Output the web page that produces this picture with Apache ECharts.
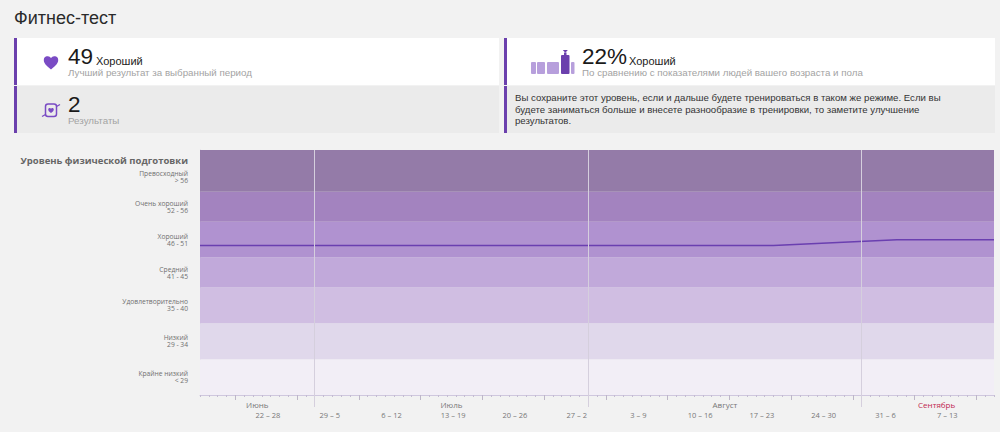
<!DOCTYPE html>
<html lang="ru">
<head>
<meta charset="utf-8">
<title>Фитнес-тест</title>
<script src="https://cdn.jsdelivr.net/npm/echarts@6/dist/echarts.min.js"></script>
<style>
  html, body { margin: 0; padding: 0; background: #f2f2f2; }
  body { width: 1000px; height: 432px; position: relative; overflow: hidden; font-family: "Liberation Sans", sans-serif; color: #222; }
  h1 { position: absolute; left: 14px; top: 6px; margin: 0; font-size: 18px; font-weight: normal; line-height: 24px; color: #2a2a2a; }
  #chart { position: absolute; left: 0; top: 0; width: 1000px; height: 432px; }
  .card { position: absolute; box-sizing: border-box; height: 47px; border-left: 3.5px solid #6b40ad; }
  .c-left { left: 14px; width: 485px; }
  .c-right { left: 504px; width: 491px; }
  .r1 { top: 38px; background: #fff; }
  .r2 { top: 86px; background: #ebebeb; }
  .t { position: absolute; white-space: nowrap; }
  .big { font-size: 22.5px; line-height: 18px; color: #1a1a1a; }
  .lvl { font-size: 11px; line-height: 13px; color: #222; }
  .sub { font-size: 9.75px; line-height: 10px; color: #a3a3a3; }
  .note { position: absolute; left: 515px; top: 92px; font-size: 9.65px; line-height: 11.5px; color: #333; white-space: nowrap; }
  svg { position: absolute; }
</style>
</head>
<body>
<h1>Фитнес-тест</h1>
<div id="chart"></div>

<div class="card c-left r1"></div>
<div class="card c-left r2"></div>
<div class="card c-right r1"></div>
<div class="card c-right r2"></div>

<svg style="left:43px;top:55px" width="16" height="15" viewBox="0 0 16 15"><path d="M8 14.5C3 10.5.8 8.2.8 5A3.9 3.9 0 0 1 8 3a3.9 3.9 0 0 1 7.2 2c0 3.2-2.2 5.500-7.200 9.500z" fill="#7a4bc4"/></svg>
<div class="t big" style="left:68px;top:48px">49</div>
<div class="t lvl" style="left:96px;top:55px">Хороший</div>
<div class="t sub" style="left:68px;top:68px">Лучший результат за выбранный период</div>

<svg style="left:41px;top:102px" width="20" height="17" viewBox="0 0 20 17"><rect x="4.500" y="2" width="11" height="12.500" rx="2.500" fill="none" stroke="#7a4bc4" stroke-width="1.500"/><path d="M10 11C8 9.500 7.200 8.600 7.200 7.400A1.500 1.500 0 0 1 10 6.700a1.500 1.500 0 0 1 2.800.7c0 1.200-.8 2.100-2.800 3.600z" fill="#7a4bc4"/><path d="M15.500 4.500L19 2.500M4.500 12.500L1 14.500" stroke="#7a4bc4" stroke-width="1.300" fill="none"/></svg>
<div class="t big" style="left:68px;top:96px">2</div>
<div class="t sub" style="left:68px;top:115.500px">Результаты</div>

<svg style="left:531px;top:50px" width="44" height="25" viewBox="0 0 44 25">
  <g fill="#b79fdc"><rect x="0" y="12" width="5" height="12" rx="1"/><rect x="6" y="12" width="8" height="12" rx="1"/><rect x="16" y="12" width="12" height="12" rx="1"/><rect x="40" y="12" width="3.500" height="12" rx="1"/></g>
  <rect x="30" y="5" width="8.500" height="19" rx="1" fill="#6b40ad"/><rect x="33" y="2.500" width="2.500" height="3" fill="#6b40ad"/><path d="M31.800 0h5l-2.500 2.800z" fill="#6b40ad"/>
</svg>
<div class="t big" style="left:582px;top:48px">22%</div>
<div class="t lvl" style="left:629px;top:55px">Хороший</div>
<div class="t sub" style="left:582px;top:68px">По сравнению с показателями людей вашего возраста и пола</div>

<div class="note">Вы сохраните этот уровень, если и дальше будете тренироваться в таком же режиме. Если вы<br>будете заниматься больше и внесете разнообразие в тренировки, то заметите улучшение<br>результатов.</div>

<script>
// Фитнес-тест: уровень физической подготовки
var lineDates = ['2015-06-18', '2015-08-22', '2015-09-05', '2015-09-16'];
var lineScores = [47.5, 47.5, 48.5, 48.5];

// границы зон снизу вверх, подписи и цвета
var bandEdges = [22.5, 28.5, 34.5, 40.5, 45.5, 51.5, 56.5, 63.5];
var bandColors = ['#f2eef6', '#e0d8eb', '#d0bee2', '#c1a9da', '#b092d0', '#a383bf', '#947ba8'];
var levelNames = ['Крайне низкий', 'Низкий', 'Удовлетворительно', 'Средний', 'Хороший', 'Очень хороший', 'Превосходный'];
var levelRanges = ['< 29', '29 - 34', '35 - 40', '41 - 45', '46 - 51', '52 - 56', '> 56'];
var levelLabelAt = [25.5, 31.5, 37.5, 43, 48.5, 54, 59];

var weekStarts = ['2015-06-22', '2015-06-29', '2015-07-06', '2015-07-13', '2015-07-20', '2015-07-27', '2015-08-03', '2015-08-10', '2015-08-17', '2015-08-24', '2015-08-31', '2015-09-07', '2015-09-14'];
var weekLabels = ['22 – 28', '29 – 5', '6 – 12', '13 – 19', '20 – 26', '27 – 2', '3 – 9', '10 – 16', '17 – 23', '24 – 30', '31 – 6', '7 – 13'];
var monthStarts = ['2015-07-01', '2015-08-01', '2015-09-01'];
var monthNames = ['Июнь', 'Июль', 'Август', 'Сентябрь'];
var monthLabelDates = ['2015-06-24T12:00:00', '2015-07-16T12:00:00', '2015-08-16T12:00:00', '2015-09-09T12:00:00'];

var DAY = 86400000;
var xMin = '2015-06-18', xMax = '2015-09-16';

function ms(s) { return new Date(s.length > 10 ? s : s + 'T00:00:00').getTime(); }

var dayTicks = [];
for (var t = ms(xMin); t <= ms(xMax); t += DAY) dayTicks.push(t);

var weekLabelAt = weekStarts.slice(0, weekLabels.length).map(function (s) { return ms(s) + 3.7 * DAY; });
var monthLabelAt = monthLabelDates.map(ms);

var chart = echarts.init(document.getElementById('chart'), null, { renderer: 'svg' });

var areas = bandColors.map(function (c, i) {
  return [{ yAxis: bandEdges[i], itemStyle: { color: c, opacity: 1 } }, { yAxis: bandEdges[i + 1] }];
});

function baseX(extra) {
  var o = {
    type: 'value', min: ms(xMin), max: ms(xMax), position: 'bottom',
    axisLine: { show: false }, axisTick: { show: false }, axisLabel: { show: false },
    splitLine: { show: false }, minorTick: { show: false }, axisPointer: { show: false }
  };
  for (var k in extra) o[k] = extra[k];
  return o;
}

chart.setOption({
  animation: false,
  backgroundColor: 'transparent',
  textStyle: { fontFamily: '"Open Sans", sans-serif' },
  title: {
    text: 'Уровень физической подготовки', left: 188, top: 154, textAlign: 'right', padding: 0,
    textStyle: { fontFamily: '"Open Sans", sans-serif', fontSize: 9.5, fontWeight: 'bold', color: '#666', lineHeight: 12 }
  },
  grid: { left: 200, right: 6, top: 150, height: 245 },
  yAxis: {
    type: 'value', min: bandEdges[0], max: bandEdges[bandEdges.length - 1],
    axisLine: { show: true, lineStyle: { color: '#d9d2e4' } }, axisTick: { show: false }, splitLine: { show: false },
    axisLabel: {
      customValues: levelLabelAt, margin: 12, fontSize: 6.7, lineHeight: 7, color: '#6f6f6f', align: 'right',
      formatter: function (v) {
        var i = levelLabelAt.indexOf(v);
        return levelNames[i] + '\n' + levelRanges[i];
      }
    }
  },
  xAxis: [
    // дни: короткие засечки и линия оси
    baseX({
      axisLine: { show: true, onZero: false, lineStyle: { color: '#cfc7de' } },
      axisTick: { show: true, length: 2, customValues: dayTicks, lineStyle: { color: '#c4bcd2' } }
    }),
    // недели
    baseX({
      axisTick: { show: true, length: 5, customValues: weekStarts.map(ms), lineStyle: { color: '#bdb6c8' } },
      axisLabel: {
        show: true, customValues: weekLabelAt, margin: 15, fontSize: 7.5, lineHeight: 9, color: '#777', hideOverlap: false,
        formatter: function (v) { return weekLabels[weekLabelAt.indexOf(v)]; }
      }
    }),
    // месяцы: разделители и подписи
    baseX({
      z: 5,
      axisTick: { show: true, length: 12, customValues: monthStarts.map(ms), lineStyle: { color: '#d5cfdd' } },
      splitLine: { show: true, lineStyle: { color: '#d5cfdd', width: 1 } },
      axisLabel: {
        show: true, customValues: monthLabelAt, margin: 5, fontSize: 8, lineHeight: 9, color: '#777', hideOverlap: false,
        formatter: function (v) {
          var n = monthNames[monthLabelAt.indexOf(v)];
          return n === 'Сентябрь' ? '{cur|' + n + '}' : n;
        },
        rich: { cur: { color: '#c0264f', fontSize: 8, lineHeight: 9 } }
      }
    })
  ],
  series: [{
    type: 'line', xAxisIndex: 0,
    data: lineDates.map(function (d, i) { return [ms(d), lineScores[i]]; }),
    symbol: 'none', lineStyle: { color: '#6a3fb0', width: 1.5 }, silent: true,
    markArea: { silent: true, data: areas }
  }]
});
window.addEventListener('resize', function () { chart.resize(); });
</script>
</body>
</html>
